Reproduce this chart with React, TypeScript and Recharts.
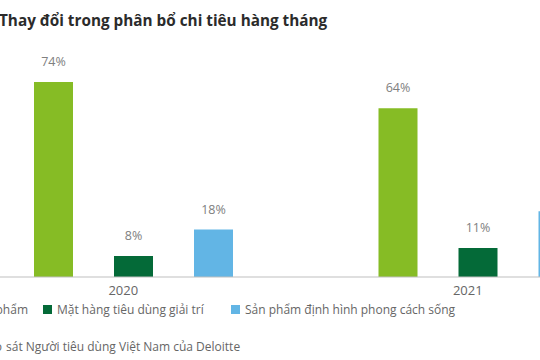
import { BarChart, Bar, XAxis, YAxis, LabelList } from "recharts";

// Chart values (percent of monthly spending)
const years = ["2020", "2021"];
const essentials = [74, 64];
const entertainment = [8, 11];
const lifestyle = [18, 25];

const seriesNames = [
  "Nhu yếu phẩm",
  "Mặt hàng tiêu dùng giải trí",
  "Sản phẩm định hình phong cách sống",
];
const seriesColors = ["#86bc25", "#046a38", "#62b5e5"];

const title = "Thay đổi trong phân bổ chi tiêu hàng tháng";
const sourceHidden = "Nguồn: Khảo";
const sourceVisible = "sát Người tiêu dùng Việt Nam của Deloitte";

const data = years.map((year, i) => ({
  year,
  essentials: essentials[i],
  entertainment: entertainment[i],
  lifestyle: lifestyle[i],
}));

const FONT = "'Open Sans', 'Noto Sans', sans-serif";

const YearTick = (props: any) => {
  const { x, y, payload } = props;
  return (
    <text
      x={x - 10}
      y={y + 16}
      textAnchor="middle"
      fill="#666666"
      fontSize={13}
      fontFamily={FONT}
    >
      {payload.value}
    </text>
  );
};

const LegendItem = ({ color, label }: { color: string; label: string }) => (
  <span style={{ display: "inline-flex", alignItems: "center", whiteSpace: "nowrap" }}>
    <span
      style={{
        display: "inline-block",
        width: 9,
        height: 9,
        background: color,
        marginRight: 5,
      }}
    />
    {label}
  </span>
);

export default function App() {
  return (
    <div
      style={{
        position: "absolute",
        left: 0,
        top: 0,
        width: 540,
        height: 360,
        overflow: "hidden",
        background: "#ffffff",
        fontFamily: FONT,
      }}
    >
      <div style={{ position: "absolute", left: -39, top: 0 }}>
        <BarChart
          width={689}
          height={307}
          data={data}
          margin={{ top: 13.5, right: 0, bottom: 0, left: 0 }}
          barSize={39}
          barGap={41}
        >
          <XAxis
            dataKey="year"
            height={30}
            axisLine={{ stroke: "#bfbfbf", strokeWidth: 1 }}
            tickLine={false}
            tickSize={0}
            tick={<YearTick />}
          />
          <YAxis hide domain={[0, 100]} />
          {(["essentials", "entertainment", "lifestyle"] as const).map((key, i) => (
            <Bar key={key} dataKey={key} fill={seriesColors[i]} isAnimationActive={false}>
              <LabelList
                dataKey={key}
                position="top"
                offset={16}
                formatter={(v: any) => `${v}%`}
                fill="#808080"
                fontSize={12.5}
                fontFamily={FONT}
              />
            </Bar>
          ))}
        </BarChart>
      </div>

      <div
        style={{
          position: "absolute",
          left: -1,
          top: 10,
          fontSize: 15.3,
          fontWeight: 700,
          color: "#2b2b2b",
          whiteSpace: "nowrap",
        }}
      >
        {title}
      </div>

      <div style={{ fontSize: 12, color: "#666666" }}>
        <div style={{ position: "absolute", right: 540 - 28, top: 301 }}>
          <LegendItem color={seriesColors[0]} label={seriesNames[0]} />
        </div>
        <div style={{ position: "absolute", left: 43, top: 301 }}>
          <LegendItem color={seriesColors[1]} label={seriesNames[1]} />
        </div>
        <div style={{ position: "absolute", left: 231, top: 301 }}>
          <LegendItem color={seriesColors[2]} label={seriesNames[2]} />
        </div>
        <div style={{ position: "absolute", left: 6, top: 338, whiteSpace: "nowrap" }}>
          <span style={{ position: "absolute", right: "100%", marginRight: 4 }}>
            {sourceHidden}
          </span>
          {sourceVisible}
        </div>
      </div>
    </div>
  );
}
